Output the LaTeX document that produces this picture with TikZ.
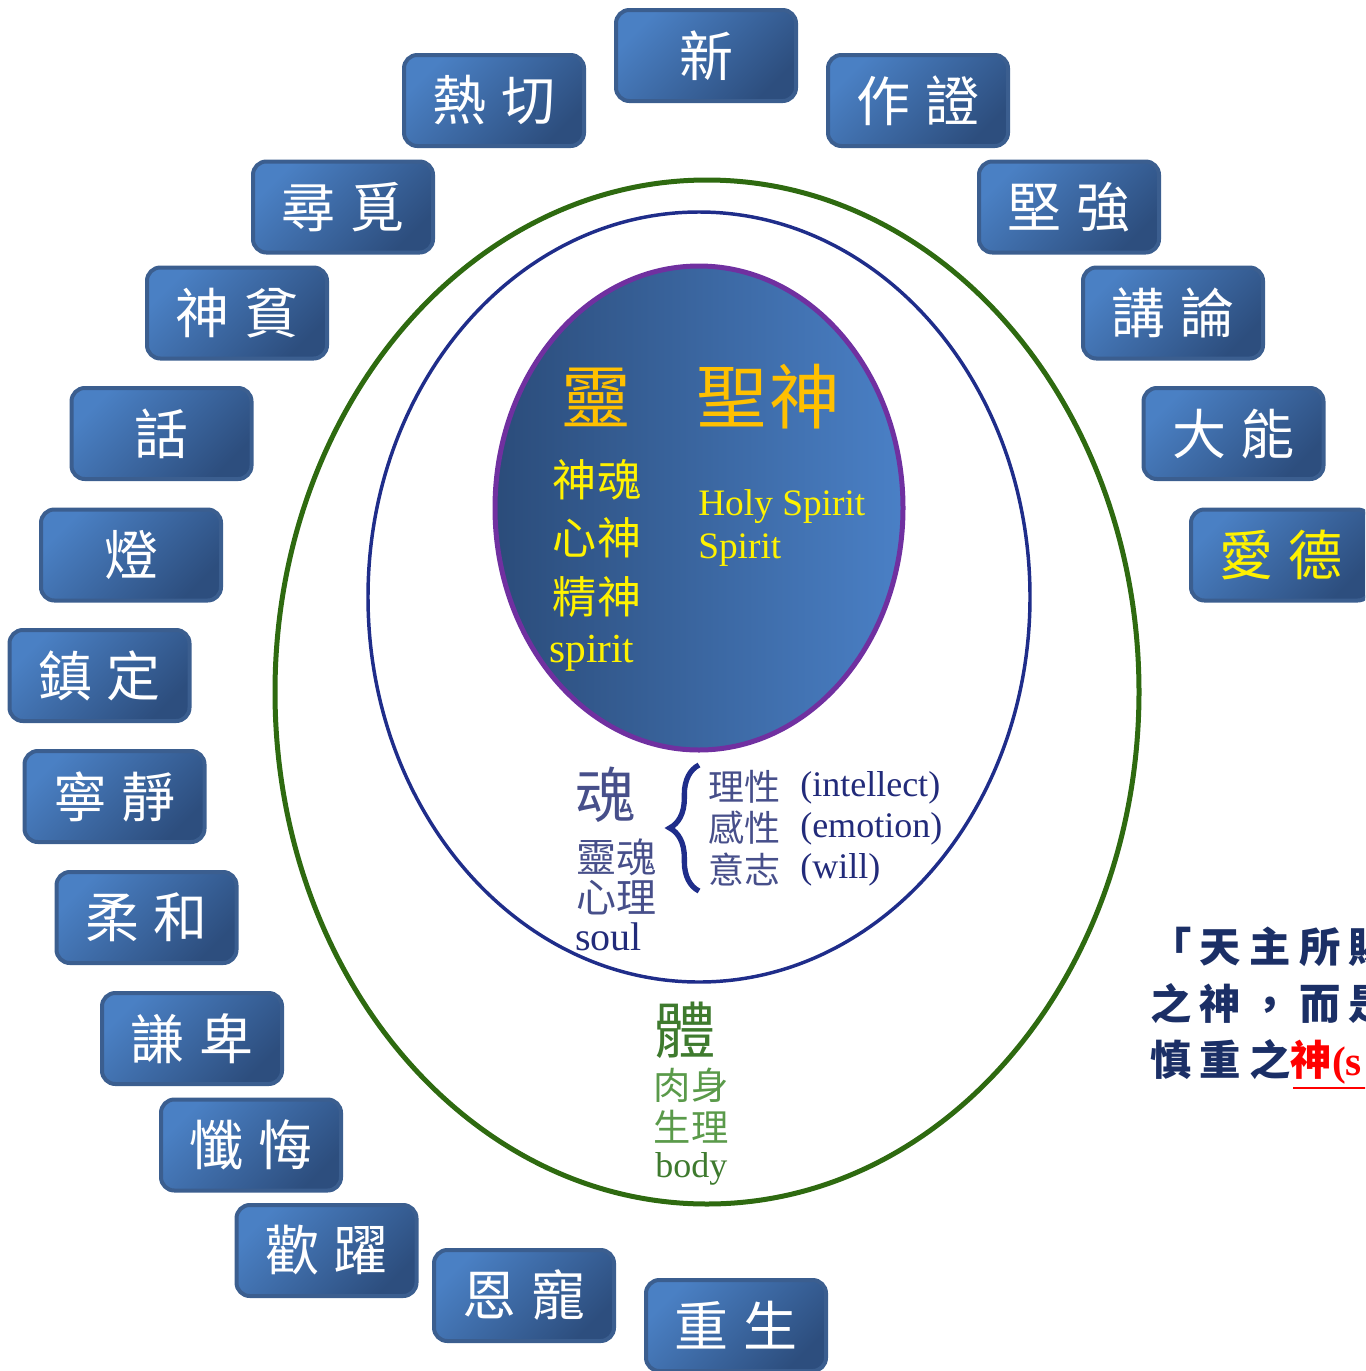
\documentclass[tikz,border=0pt]{standalone}
\usepackage{fontspec}
\setmainfont{Liberation Serif}
\newfontfamily\cjk{Noto Sans CJK TC}
\usetikzlibrary{decorations.pathreplacing}
\definecolor{boxL}{HTML}{4A80C4}
\definecolor{boxR}{HTML}{2D4E7E}
\definecolor{boxBorder}{HTML}{3B5E8F}
\definecolor{greenRing}{HTML}{2E6A10}
\definecolor{navyRing}{HTML}{1F2D8A}
\definecolor{purpleRing}{HTML}{7030A0}
\definecolor{innerL}{HTML}{2B4C7A}
\definecolor{innerR}{HTML}{4A80C6}
\definecolor{gold}{HTML}{FFC000}
\definecolor{soulA}{HTML}{474F8A}
\definecolor{soulB}{HTML}{222B7A}
\definecolor{bodyA}{HTML}{3E7A2E}
\definecolor{bodyB}{HTML}{5A9A4A}
\definecolor{quotec}{HTML}{1B2F66}
\tikzset{
  vbox/.style={draw=boxBorder, line width=3pt, rounded corners=10pt,
    top color=boxL, bottom color=boxR, shading angle=45,
    minimum width=135pt, minimum height=68.25pt, inner sep=0pt,
    text=white, font=\cjk\fontsize{40.5pt}{40.5pt}\selectfont},
  ctext/.style={inner sep=0pt, anchor=center},
  ltext/.style={inner sep=0pt, anchor=base west},
  qtext/.style={inner sep=0pt, anchor=west, text=quotec,
    font=\cjk\bfseries\fontsize{31pt}{31pt}\selectfont\addfontfeature{LetterSpace=20}},
}
\newcommand{\gp}{\hspace{11pt}}
\newcommand{\dn}[1]{\raisebox{-2.5pt}{#1}}
\begin{document}
\begin{tikzpicture}[x=0.75pt,y=-0.75pt]
\useasboundingbox (0,0) rectangle (1365,1371);
\clip (0,0) rectangle (1365,1371);

% rings
\draw[greenRing, line width=3.75pt] (707,692) ellipse [x radius=324pt, y radius=384pt];
\draw[navyRing, line width=2.6pt] (699,597) ellipse [x radius=248.25pt, y radius=288.75pt];
\shade[left color=innerL, right color=innerR] (699,508) ellipse [x radius=153pt, y radius=181.5pt];
\draw[purpleRing, line width=3.75pt] (699,508) ellipse [x radius=153pt, y radius=181.5pt];

% spirit texts
\node[ctext, text=gold, font=\cjk\fontsize{52pt}{52pt}\selectfont] (ling) at (596,397) {靈};
\node[ctext, text=gold, font=\cjk\fontsize{53pt}{53pt}\selectfont] (shengshen) at (768,397) {聖\hspace{2pt}神};
\node[ctext, text=yellow, font=\cjk\fontsize{33pt}{33pt}\selectfont] (s1) at (597,480) {神\hspace{1.5pt}魂};
\node[ctext, text=yellow, font=\cjk\fontsize{33pt}{33pt}\selectfont] (s2) at (597,538) {心\hspace{1.5pt}神};
\node[ctext, text=yellow, font=\cjk\fontsize{33pt}{33pt}\selectfont] (s3) at (597,597) {精\hspace{1.5pt}神};
\node[ltext, text=yellow, font=\fontsize{31pt}{31pt}\selectfont] (s4) at (549,662) {spirit};
\node[ltext, text=yellow, font=\fontsize{28pt}{28pt}\selectfont] (hs) at (698,515) {Holy Spirit};
\node[ltext, text=yellow, font=\fontsize{28pt}{28pt}\selectfont] (sp) at (698,558) {Spirit};

% soul texts
\node[ctext, text=soulA, font=\cjk\fontsize{45pt}{45pt}\selectfont] (hun) at (605,795) {魂};
\node[ctext, text=soulA, font=\cjk\fontsize{30pt}{30pt}\selectfont] (lh) at (616,857) {靈魂};
\node[ctext, text=soulA, font=\cjk\fontsize{30pt}{30pt}\selectfont] (xl) at (616,898) {心理};
\node[ltext, text=soulB, font=\fontsize{30pt}{30pt}\selectfont] (soul) at (575,950) {soul};
\draw[navyRing, line width=4pt, decorate, decoration={brace, amplitude=22pt}] (699,891) -- (699,765);
\node[ctext, text=soulA, font=\cjk\fontsize{27pt}{27pt}\selectfont] (lx) at (744,787) {理性};
\node[ctext, text=soulA, font=\cjk\fontsize{27pt}{27pt}\selectfont] (gx) at (744,828) {感性};
\node[ctext, text=soulA, font=\cjk\fontsize{27pt}{27pt}\selectfont] (yz) at (744,869) {意志};
\node[ltext, text=soulB, font=\fontsize{27pt}{27pt}\selectfont] (intel) at (800,796.5) {(intellect)};
\node[ltext, text=soulB, font=\fontsize{27pt}{27pt}\selectfont] (emo) at (800,837.5) {(emotion)};
\node[ltext, text=soulB, font=\fontsize{27pt}{27pt}\selectfont] (will) at (800,878.5) {(will)};

% body texts
\node[ctext, text=bodyA, font=\cjk\fontsize{46pt}{46pt}\selectfont] (ti) at (685,1030) {體};
\node[ctext, text=bodyB, font=\cjk\fontsize{28pt}{28pt}\selectfont] (rs) at (691,1085) {肉身};
\node[ctext, text=bodyB, font=\cjk\fontsize{28pt}{28pt}\selectfont] (sl) at (691,1127) {生理};
\node[ltext, text=bodyA, font=\fontsize{27pt}{27pt}\selectfont] (body) at (655,1177) {body};

% boxes
\node[vbox] (b1) at (706,55.5) {\dn{新}};
\node[vbox] (b2) at (494,100.5) {\dn{熱\gp 切}};
\node[vbox] (b3) at (918,100.5) {\dn{作\gp 證}};
\node[vbox] (b4) at (343,207) {\dn{尋\gp 覓}};
\node[vbox] (b5) at (237,313) {\dn{神\gp 貧}};
\node[vbox] (b6) at (161.5,433.5) {\dn{話}};
\node[vbox] (b7) at (131,555) {\dn{燈}};
\node[vbox] (b8) at (99.5,675.5) {\dn{鎮\gp 定}};
\node[vbox] (b9) at (114.5,796.5) {\dn{寧\gp 靜}};
\node[vbox] (b10) at (146.5,917.5) {\dn{柔\gp 和}};
\node[vbox] (b11) at (192,1038.5) {\dn{謙\gp 卑}};
\node[vbox] (b12) at (251,1145) {\dn{懺\gp 悔}};
\node[vbox] (b13) at (326.5,1250.5) {\dn{歡\gp 躍}};
\node[vbox] (b14) at (524,1295.5) {\dn{恩\gp 寵}};
\node[vbox] (b15) at (736,1325.5) {\dn{重\gp 生}};
\node[vbox] (b16) at (1069,207) {\dn{堅\gp 強}};
\node[vbox] (b17) at (1173,313) {\dn{講\gp 論}};
\node[vbox] (b18) at (1233.5,433.5) {\dn{大\gp 能}};
\node[vbox, text=yellow] (b19) at (1281,555) {\dn{愛\gp 德}};

% quote (cut off at the right edge, as in the picture)
\node[qtext] (q1) at (1150,946.5) {「天主所賜};
\node[qtext] (q2) at (1150,1004) {之神，而是};
\node[qtext] (q3) at (1150,1061.5) {慎重之\textcolor{red}{神{\rmfamily\bfseries(s}}};
\coordinate (ul1) at (1293,1088);
\coordinate (ul2) at (1370,1088);
\draw[red, line width=2.2pt] (ul1) -- (ul2);
\end{tikzpicture}
\end{document}
